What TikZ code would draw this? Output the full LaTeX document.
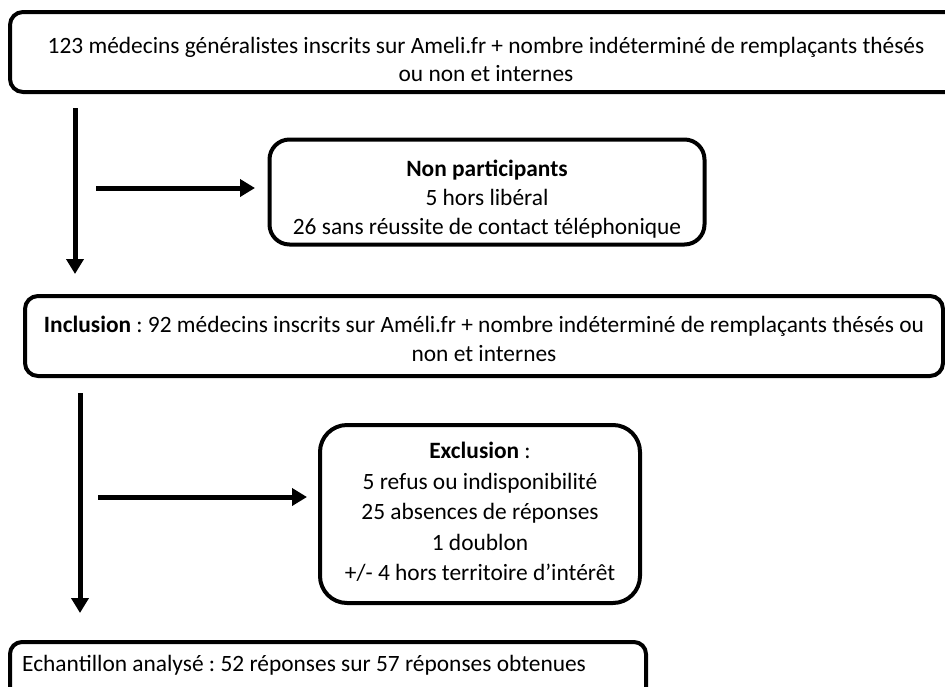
\documentclass[tikz,border=0pt]{standalone}
\usepackage{fontspec}
\setmainfont{Carlito}
\usetikzlibrary{arrows.meta}
\frenchspacing
\begin{document}
\begin{tikzpicture}[x=1pt,y=-1pt,
  box/.style={draw=black,line width=4pt,rounded corners=#1,inner sep=0pt},
  box/.default=13pt,
  txt/.style={align=center,inner sep=0pt,font=\fontsize{23.4}{#1}\selectfont},
  txt/.default=28,
  arr/.style={line width=5pt,-{Triangle[width=17pt,length=15pt]}}]
\useasboundingbox (0,0) rectangle (945,686);
\clip (0,0) rectangle (945,686);
\node[box, minimum width=952pt, minimum height=80pt] (top) at (486,52) {};
\node[txt] (toptxt) at ([yshift=-7pt]top.center)
  {123 médecins généralistes inscrits sur Ameli.fr + nombre indéterminé de remplaçants thésés\\ou non et internes};
\node[box=20pt, minimum width=435pt, minimum height=105pt] (np) at (487,192) {};
\node[txt=29] (nptxt) at ([yshift=-7pt]np.center)
  {\textbf{Non participants}\\5 hors libéral\\26 sans réussite de contact téléphonique};
\node[box, minimum width=918pt, minimum height=80pt] (inc) at (484,336) {};
\node[txt=29] (inctxt) at ([yshift=-3pt]inc.center)
  {\textbf{Inclusion} : 92 médecins inscrits sur Améli.fr + nombre indéterminé de remplaçants thésés ou\\non et internes};
\node[box=27pt, minimum width=320pt, minimum height=178pt] (exc) at (480,514) {};
\node[txt=30.5] (exctxt) at ([yshift=2pt]exc.center)
  {\textbf{Exclusion} :\\5 refus ou indisponibilité\\25 absences de réponses\\1 doublon\\+/- 4 hors territoire d’intérêt};
\node[box=12pt, minimum width=636pt, minimum height=60pt] (ech) at (328,672) {};
\node[txt, anchor=west] (echtxt) at (22,665)
  {Echantillon analysé : 52 réponses sur 57 réponses obtenues};
\coordinate (a1s) at (75,108); \coordinate (a1e) at (75,274);
\coordinate (h1s) at (96,188); \coordinate (h1e) at (255,188);
\coordinate (a2s) at (80,393); \coordinate (a2e) at (80,613);
\coordinate (h2s) at (98,497); \coordinate (h2e) at (307,497);
\draw[arr] (a1s) -- (a1e);
\draw[arr] (h1s) -- (h1e);
\draw[arr] (a2s) -- (a2e);
\draw[arr] (h2s) -- (h2e);
\end{tikzpicture}
\end{document}
